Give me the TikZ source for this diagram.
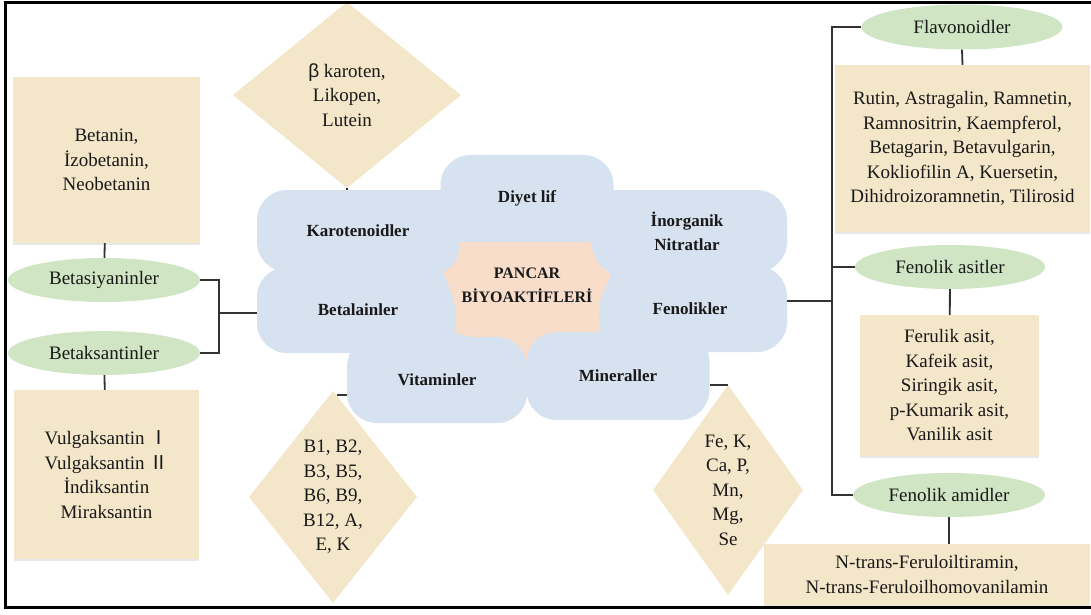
\documentclass[tikz,border=0pt]{standalone}
\usepackage{fontspec}
\setmainfont{Liberation Serif}
\setsansfont{Liberation Sans}
\newfontfamily\romfont{Noto Sans CJK SC}
\usetikzlibrary{positioning,shapes.geometric,shadows}
\usepackage{xcolor}
\definecolor{cloudblue} {RGB}{215,226,240}
\definecolor{sandfill}  {RGB}{243,230,201}
\definecolor{leafgreen} {RGB}{207,229,196}
\definecolor{peachfill} {RGB}{248,221,203}
\definecolor{linkgray}  {RGB}{ 50, 50, 50}

\begin{document}
\begin{tikzpicture}[
    x=1pt, y=-1pt,
    every node/.style={font=\fontsize{19}{24.5}\selectfont, align=center, text=black!90},
    listbox/.style={rectangle, fill=sandfill, inner sep=0pt, drop shadow={opacity=0.18, shadow xshift=0pt, shadow yshift=-2pt}},
    groupoval/.style={ellipse, fill=leafgreen, minimum width=192pt, minimum height=44pt, inner sep=0pt},
    gem/.style={diamond, fill=sandfill, inner sep=0pt, aspect=0.7},
    lobe/.style={rectangle, rounded corners=30pt, fill=cloudblue, inner sep=0pt, font=\fontsize{17}{24}\selectfont\bfseries},
    link/.style={draw=linkgray, line width=1.8pt}
]
    \useasboundingbox (0,0) rectangle (1091,614);

    \fill[cloudblue] (430,205) rectangle (605,345);
    \fill[cloudblue] (425,190) rectangle (445,215);
    \fill[cloudblue] (600,190) rectangle (620,215);
    \node[lobe, minimum width=173pt, minimum height=86pt] (diyet) at (527,198) {Diyet lif};
    \node[lobe, minimum width=202pt, minimum height=82pt] (karo) at (358,231) {Karotenoidler};
    \node[lobe, minimum width=202pt, minimum height=86pt] (betal) at (358,310) {Betalainler};
    \node[lobe, minimum width=200pt, minimum height=82pt] (inorg) at (687,231) {İnorganik\\Nitratlar};
    \node[lobe, minimum width=194pt, minimum height=86pt] (fenol) at (690,309) {Fenolikler};
    \fill[peachfill] (460,242) -- (590,242) .. controls (596,262) .. (611,275)
        .. controls (598,303) .. (600,333) .. controls (560,343) .. (527,368)
        .. controls (494,343) .. (456,333) .. controls (456,303) .. (443,273)
        .. controls (458,261) .. cycle;
    \node[lobe, minimum width=180pt, minimum height=86pt] (vitam) at (437,380) {Vitaminler};
    \node[lobe, minimum width=183pt, minimum height=88pt] (miner) at (618,376) {Mineraller};
    \node[font=\fontsize{16}{24}\selectfont\bfseries] (pancar) at (527,285) {PANCAR\\BİYOAKTİFLERİ};

    \node[gem, minimum width=228pt, minimum height=186pt] (carodia) at (347,95) {{\sffamily β} karoten,\\Likopen,\\Lutein};
    \node[gem, minimum width=168pt, minimum height=212pt] (vitdia) at (333,497) {B1, B2,\\B3, B5,\\B6, B9,\\B12, A,\\E, K};
    \node[gem, minimum width=150pt, minimum height=210pt] (mindia) at (728,490) {Fe, K,\\Ca, P,\\Mn,\\Mg,\\Se};

    \node[listbox, minimum width=187pt, minimum height=166pt] (betanin) at (106.5,160) {Betanin,\\İzobetanin,\\Neobetanin};
    \node[groupoval] (betasiy) at (104,280) {Betasiyaninler};
    \node[groupoval] (betaks) at (104,353) {Betaksantinler};
    \node[listbox, minimum width=185pt, minimum height=169pt] (vulga) at (106.5,474.5) {Vulgaksantin {\romfont Ⅰ}\\Vulgaksantin {\romfont Ⅱ}\\İndiksantin\\Miraksantin};

    \node[groupoval, minimum width=201pt, minimum height=45pt] (flavoval) at (962,27) {Flavonoidler};
    \node[listbox, minimum width=255pt, minimum height=167pt] (flavbox) at (962.5,148.5) {Rutin, Astragalin, Ramnetin,\\Ramnositrin, Kaempferol,\\Betagarin, Betavulgarin,\\Kokliofilin A, Kuersetin,\\Dihidroizoramnetin, Tilirosid};
    \node[groupoval, minimum width=190pt] (asitoval) at (950,267) {Fenolik asitler};
    \node[listbox, minimum width=179pt, minimum height=141pt] (asitbox) at (949.5,385.5) {Ferulik asit,\\Kafeik asit,\\Siringik asit,\\p-Kumarik asit,\\Vanilik asit};
    \node[groupoval] (amidoval) at (949,495) {Fenolik amidler};
    \node[listbox, minimum width=326pt, minimum height=61pt] (amidbox) at (927,574.5) {N-trans-Feruloiltiramin,\\N-trans-Feruloilhomovanilamin};

    \coordinate (betjoint) at (219,313);
    \coordinate (fenjoint) at (832,301);
    \coordinate (vittick) at (337,395);

    \draw[link] (betanin) -- (betasiy);
    \draw[link] (betaks) -- (vulga);
    \draw[link] (betasiy.east) -| (betjoint) |- (betaks.east);
    \draw[link] (betjoint) -- (betjoint -| betal.west);
    \draw[link] (carodia.south) -- (carodia.south |- karo.north);
    \draw[link] (vittick) -- (vittick -| vitam.west);
    \draw[link] (mindia.north -| miner.east) -- (mindia.north);
    \draw[link] (fenjoint -| fenol.east) -- (fenjoint);
    \draw[link] (flavoval.west) -| (fenjoint) |- (amidoval.west);
    \draw[link] (asitoval.west -| fenjoint) -- (asitoval.west);
    \draw[link] (flavoval.south) -- (flavbox.north);
    \draw[link] (asitoval) -- (asitbox);
    \draw[link] (amidoval.south) -- (amidoval.south |- amidbox.north);

    \draw[line width=3pt] (5,2) rectangle (1094,607);
\end{tikzpicture}
\end{document}
